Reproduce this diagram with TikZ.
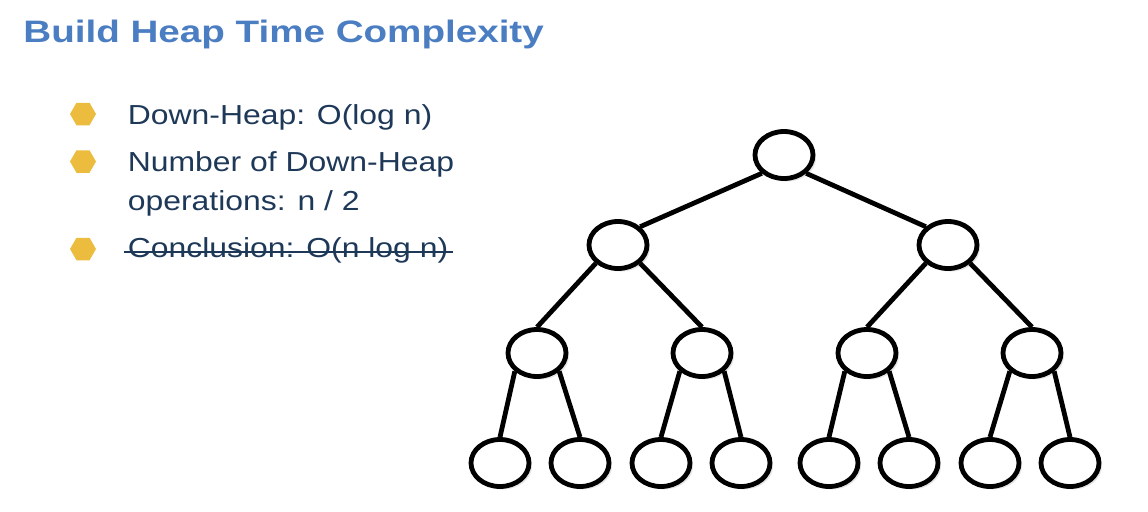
\documentclass[tikz,border=0pt]{standalone}
\usepackage{fontspec}
\usetikzlibrary{shapes.geometric,shadows}

\newfontfamily\titlefont[FakeStretch=1.245]{Liberation Sans}
\newfontfamily\bodyfont[FakeStretch=1.16]{Liberation Sans}

\definecolor{titleblue}{RGB}{74,125,193}
\definecolor{textnavy}{RGB}{30,56,88}
\definecolor{bulletgold}{RGB}{235,188,62}

\begin{document}
\begin{tikzpicture}[x=0.5pt,y=-0.5pt,
    heapnode/.style={ellipse,draw,line width=2.4pt,fill=white,
      minimum width=29pt,minimum height=23.5pt,inner sep=0pt,
      drop shadow={opacity=0.2,shadow xshift=1.5pt,shadow yshift=-1.5pt}},
    heapedge/.style={line width=2.4pt},
    hexbullet/.style={regular polygon,regular polygon sides=6,fill=bulletgold,
      minimum size=13pt,inner sep=0pt},
    bodytext/.style={anchor=base west,inner sep=0pt,text=textnavy,align=left,
      font=\bodyfont\fontsize{13.75}{19.5}\selectfont}]
    \useasboundingbox (0,0) rectangle (1148,511);

    % Title
    \node[anchor=base west,inner sep=0pt,text=titleblue,
      font=\titlefont\bfseries\fontsize{15.5}{18}\selectfont] (title) at (23,42) {Build Heap Time Complexity};

    % Bullet points
    \node[hexbullet] (b1) at (83,114) {};
    \node[hexbullet] (b2) at (83,161.5) {};
    \node[hexbullet] (b3) at (83,249) {};
    \node[bodytext] (t1) at (127.5,124) {Down-Heap: O(log n)};
    \node[bodytext] (t2) at (127.5,210) {Number of Down-Heap\\operations: n / 2};
    \node[bodytext] (t3) at (127.5,257) {Conclusion: O(n log n)};
    % struck-out conclusion
    \draw[textnavy,line width=1pt] ([xshift=-2pt,yshift=2.5pt]t3.base west) -- ([xshift=2pt,yshift=2.5pt]t3.base east);

    % Heap tree (complete binary tree, 4 levels)
    \node[heapnode] (root) at (784,155) {};
    \node[heapnode] (l) at (618,245) {};
    \node[heapnode] (r) at (948,245) {};
    \node[heapnode] (ll) at (537,353) {};
    \node[heapnode] (lr) at (702,353) {};
    \node[heapnode] (rl) at (867,353) {};
    \node[heapnode] (rr) at (1032,353) {};
    % leaves
    \node[heapnode] (lll) at (500,463) {};
    \node[heapnode] (llr) at (580,463) {};
    \node[heapnode] (lrl) at (661,463) {};
    \node[heapnode] (lrr) at (741,463) {};
    \node[heapnode] (rll) at (829,463) {};
    \node[heapnode] (rlr) at (909,463) {};
    \node[heapnode] (rrl) at (990,463) {};
    \node[heapnode] (rrr) at (1070,463) {};

    % Edges
    \draw[heapedge] (root.south west) -- (l.north east);
    \draw[heapedge] (root.south east) -- (r.north west);
    \draw[heapedge] (l.south west) -- (ll.north);
    \draw[heapedge] (l.south east) -- (lr.north);
    \draw[heapedge] (r.south west) -- (rl.north);
    \draw[heapedge] (r.south east) -- (rr.north);
    \draw[heapedge] (ll.south west) -- (lll.north);
    \draw[heapedge] (ll.south east) -- (llr.north);
    \draw[heapedge] (lr.south west) -- (lrl.north);
    \draw[heapedge] (lr.south east) -- (lrr.north);
    \draw[heapedge] (rl.south west) -- (rll.north);
    \draw[heapedge] (rl.south east) -- (rlr.north);
    \draw[heapedge] (rr.south west) -- (rrl.north);
    \draw[heapedge] (rr.south east) -- (rrr.north);
\end{tikzpicture}
\end{document}
